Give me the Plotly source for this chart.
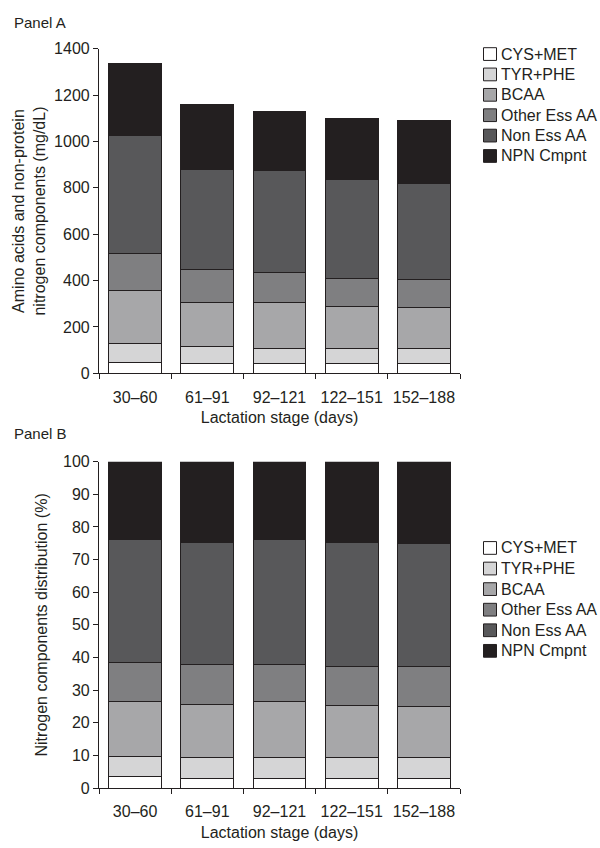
import plotly.graph_objects as go

categories = ["30–60", "61–91", "92–121", "122–151", "152–188"]
components = ["CYS+MET", "TYR+PHE", "BCAA", "Other Ess AA", "Non Ess AA", "NPN Cmpnt"]

# Panel A: mg/dL
cys_met_a = [47, 44, 44, 42, 42]
tyr_phe_a = [80, 73, 62, 64, 64]
bcaa_a = [228, 188, 199, 182, 177]
other_ess_a = [160, 143, 128, 122, 120]
non_ess_a = [510, 432, 444, 428, 417]
npn_a = [310, 280, 251, 262, 270]

# Panel B: %
cys_met_b = [3.6, 2.8, 2.8, 2.8, 2.8]
tyr_phe_b = [6.2, 6.7, 6.7, 6.7, 6.7]
bcaa_b = [16.7, 16.2, 16.9, 15.8, 15.6]
other_ess_b = [12.1, 12.1, 11.4, 11.8, 12.0]
non_ess_b = [37.7, 37.4, 38.5, 38.1, 37.7]
npn_b = [23.7, 24.8, 23.7, 24.8, 25.2]

colors = ["#ffffff", "#d5d5d6", "#a7a7a9", "#7f7f81", "#58585a", "#231f20"]
series_a = [cys_met_a, tyr_phe_a, bcaa_a, other_ess_a, non_ess_a, npn_a]
series_b = [cys_met_b, tyr_phe_b, bcaa_b, other_ess_b, non_ess_b, npn_b]

FONT = "Liberation Sans, Arial, Helvetica, sans-serif"
INK = "#231f20"
W, H = 600, 848
fig = go.Figure()

for name, vals, col in zip(components, series_a, colors):
    fig.add_trace(go.Bar(x=categories, y=vals, name=name, showlegend=False,
                         marker=dict(color=col, line=dict(color=INK, width=1)), xaxis="x", yaxis="y"))
for name, vals, col in zip(components, series_b, colors):
    fig.add_trace(go.Bar(x=categories, y=vals, name=name, showlegend=False,
                         marker=dict(color=col, line=dict(color=INK, width=1)), xaxis="x2", yaxis="y2"))

def py(p):
    return (H - p) / H

def px(p):
    return p / W

axis_common = dict(showline=True, linecolor=INK, linewidth=1.2, ticks="outside", ticklen=5,
                   tickcolor=INK, showgrid=False, zeroline=False,
                   tickfont=dict(family=FONT, size=16, color=INK))
xdom = [px(99), px(460)]

shapes = []
annotations = [
    dict(text="Panel A", x=px(12), y=py(15), xref="paper", yref="paper", showarrow=False,
         xanchor="left", yanchor="middle", font=dict(family=FONT, size=15, color=INK)),
    dict(text="Panel B", x=px(12), y=py(434), xref="paper", yref="paper", showarrow=False,
         xanchor="left", yanchor="middle", font=dict(family=FONT, size=15, color=INK)),
]
# manual legends (one per panel)
for top, step in [(47, 20.8), (551, 21.0)]:
    for i, (name, col) in enumerate(zip(components, colors)):
        yc = top + i * step
        shapes.append(dict(type="rect", xref="paper", yref="paper",
                           x0=px(483.5), x1=px(496.5), y0=py(yc + 6.5), y1=py(yc - 6.5),
                           fillcolor=col, line=dict(color=INK, width=1)))
        annotations.append(dict(text=name, x=px(499), y=py(yc), xref="paper", yref="paper",
                                showarrow=False, xanchor="left", yanchor="middle",
                                font=dict(family=FONT, size=16, color=INK)))

fig.update_layout(
    width=W, height=H, barmode="stack", bargap=0.27, showlegend=False,
    margin=dict(l=0, r=0, t=0, b=0),
    paper_bgcolor="white", plot_bgcolor="white",
    font=dict(family=FONT, color=INK),
    xaxis=dict(domain=xdom, anchor="y", tickson="boundaries", ticklabelstandoff=9, **axis_common,
               title=dict(text="Lactation stage (days)", font=dict(size=16), standoff=7)),
    yaxis=dict(domain=[py(372.7), py(41.7)], anchor="x", range=[0, 1400], dtick=200, **axis_common,
               title=dict(text="Amino acids and non-protein<br>nitrogen components (mg/dL)", font=dict(size=16), standoff=4)),
    xaxis2=dict(domain=xdom, anchor="y2", tickson="boundaries", ticklabelstandoff=9, **axis_common,
                title=dict(text="Lactation stage (days)", font=dict(size=16), standoff=7)),
    yaxis2=dict(domain=[py(796), py(463)], anchor="x2", range=[0, 100], dtick=10, **axis_common,
                title=dict(text="Nitrogen components distribution (%)", font=dict(size=16), standoff=11)),
    shapes=shapes,
    annotations=annotations,
)

fig.write_html("out.html")
